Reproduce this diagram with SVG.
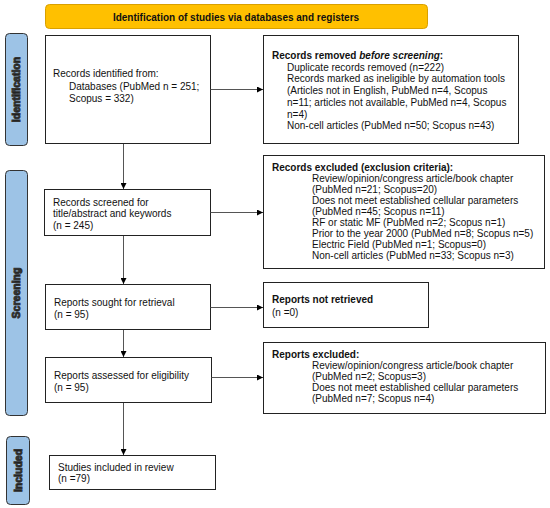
<svg xmlns="http://www.w3.org/2000/svg" width="550" height="508" viewBox="0 0 550 508">
<defs>
<style>
text{font-family:"Liberation Sans",Arial,sans-serif;font-size:10px;fill:#111}
.b{font-weight:bold}
.box{fill:#fff;stroke:#222;stroke-width:1}
.side{fill:#9DC3E6;stroke:#333;stroke-width:1}
.side text{font-weight:bold;font-size:10.5px;text-anchor:middle}
.conn line{stroke:#555;stroke-width:1;marker-end:url(#ah)}
</style>
<marker id="ah" viewBox="0 0 6 6" refX="6" refY="3" markerWidth="6" markerHeight="6" markerUnits="userSpaceOnUse" orient="auto">
<path d="M0,0 L6,3 L0,6 z" fill="#000"/>
</marker>
</defs>
<rect width="550" height="508" fill="#fff"/>
<g id="banner">
<rect x="45.5" y="4.5" width="382" height="24" rx="4" fill="#FFC000" stroke="#D9A000"/>
<text class="b" x="236" y="20.5" text-anchor="middle">Identification of studies via databases and registers</text>
</g>
<g id="side-identification" class="side">
<rect x="5.5" y="33.5" width="22" height="112" rx="4"/>
<text transform="translate(20,89.5) rotate(-90)">Identification</text>
</g>
<g id="side-screening" class="side">
<rect x="5.5" y="170.5" width="22" height="245" rx="4"/>
<text transform="translate(20,293) rotate(-90)">Screening</text>
</g>
<g id="side-included" class="side">
<rect x="6.5" y="436.5" width="23" height="68" rx="4"/>
<text transform="translate(21.5,470.5) rotate(-90)">Included</text>
</g>
<g id="identified">
<rect class="box" x="45.5" y="35.5" width="165" height="108"/>
<text x="53" y="77">Records identified from:</text>
<text x="69" y="89.5">Databases (PubMed n = 251;</text>
<text x="69" y="102">Scopus = 332)</text>
</g>
<g id="removed">
<rect class="box" x="263.5" y="35.5" width="255" height="108"/>
<text x="272" y="59" class="b">Records removed <tspan font-style="italic">before screening</tspan>:</text>
<text x="287" y="70.7">Duplicate records removed (n=222)</text>
<text x="287" y="82.4">Records marked as ineligible by automation tools</text>
<text x="287" y="94.1">(Articles not in English, PubMed n=4, Scopus</text>
<text x="287" y="105.8">n=11; articles not available, PubMed n=4, Scopus</text>
<text x="287" y="117.5">n=4)</text>
<text x="287" y="129.2">Non-cell articles (PubMed n=50; Scopus n=43)</text>
</g>
<g id="screened">
<rect class="box" x="44.5" y="189.5" width="166" height="46"/>
<text x="53" y="205.5">Records screened for</text>
<text x="53" y="217">title/abstract and keywords</text>
<text x="53" y="228.5">(n = 245)</text>
</g>
<g id="excluded">
<rect class="box" x="263.5" y="155.5" width="281" height="113"/>
<text x="272" y="170.5" class="b">Records excluded (exclusion criteria):</text>
<text x="312" y="181.6">Review/opinion/congress article/book chapter</text>
<text x="312" y="192.7">(PubMed n=21; Scopus=20)</text>
<text x="312" y="203.8">Does not meet established cellular parameters</text>
<text x="312" y="214.9">(PubMed n=45; Scopus n=11)</text>
<text x="312" y="226">RF or static MF (PubMed n=2; Scopus n=1)</text>
<text x="312" y="237.1">Prior to the year 2000 (PubMed n=8; Scopus n=5)</text>
<text x="312" y="248.2">Electric Field (PubMed n=1; Scopus=0)</text>
<text x="312" y="259.3">Non-cell articles (PubMed n=33; Scopus n=3)</text>
</g>
<g id="sought">
<rect class="box" x="45.5" y="284.5" width="165" height="45"/>
<text x="54" y="305.5">Reports sought for retrieval</text>
<text x="54" y="317.5">(n = 95)</text>
</g>
<g id="not-retrieved">
<rect class="box" x="263.5" y="282.5" width="165" height="45"/>
<text x="272" y="302.5" class="b">Reports not retrieved</text>
<text x="272" y="315.5">(n =0)</text>
</g>
<g id="assessed">
<rect class="box" x="45.5" y="357.5" width="166" height="45"/>
<text x="54" y="378.5">Reports assessed for eligibility</text>
<text x="54" y="390.5">(n = 95)</text>
</g>
<g id="reports-excluded">
<rect class="box" x="263.5" y="342.5" width="282" height="71"/>
<text x="272" y="357.5" class="b">Reports excluded:</text>
<text x="312" y="368.5">Review/opinion/congress article/book chapter</text>
<text x="312" y="379.8">(PubMed n=2; Scopus=3)</text>
<text x="312" y="391.1">Does not meet established cellular parameters</text>
<text x="312" y="402.4">(PubMed n=7; Scopus n=4)</text>
</g>
<g id="included">
<rect class="box" x="49.5" y="455.5" width="166" height="34"/>
<text x="58" y="470.5">Studies included in review</text>
<text x="58" y="482">(n =79)</text>
</g>
<g id="connectors" class="conn">
<line x1="210.5" y1="89.5" x2="263" y2="89.5"/>
<line x1="123.5" y1="144" x2="123.5" y2="189"/>
<line x1="210.5" y1="212.5" x2="263" y2="212.5"/>
<line x1="123.5" y1="236" x2="123.5" y2="284"/>
<line x1="210.5" y1="307.5" x2="263" y2="307.5"/>
<line x1="123.5" y1="330" x2="123.5" y2="357"/>
<line x1="211.5" y1="377.5" x2="263" y2="377.5"/>
<line x1="123.5" y1="403" x2="123.5" y2="455"/>
</g>
</svg>
